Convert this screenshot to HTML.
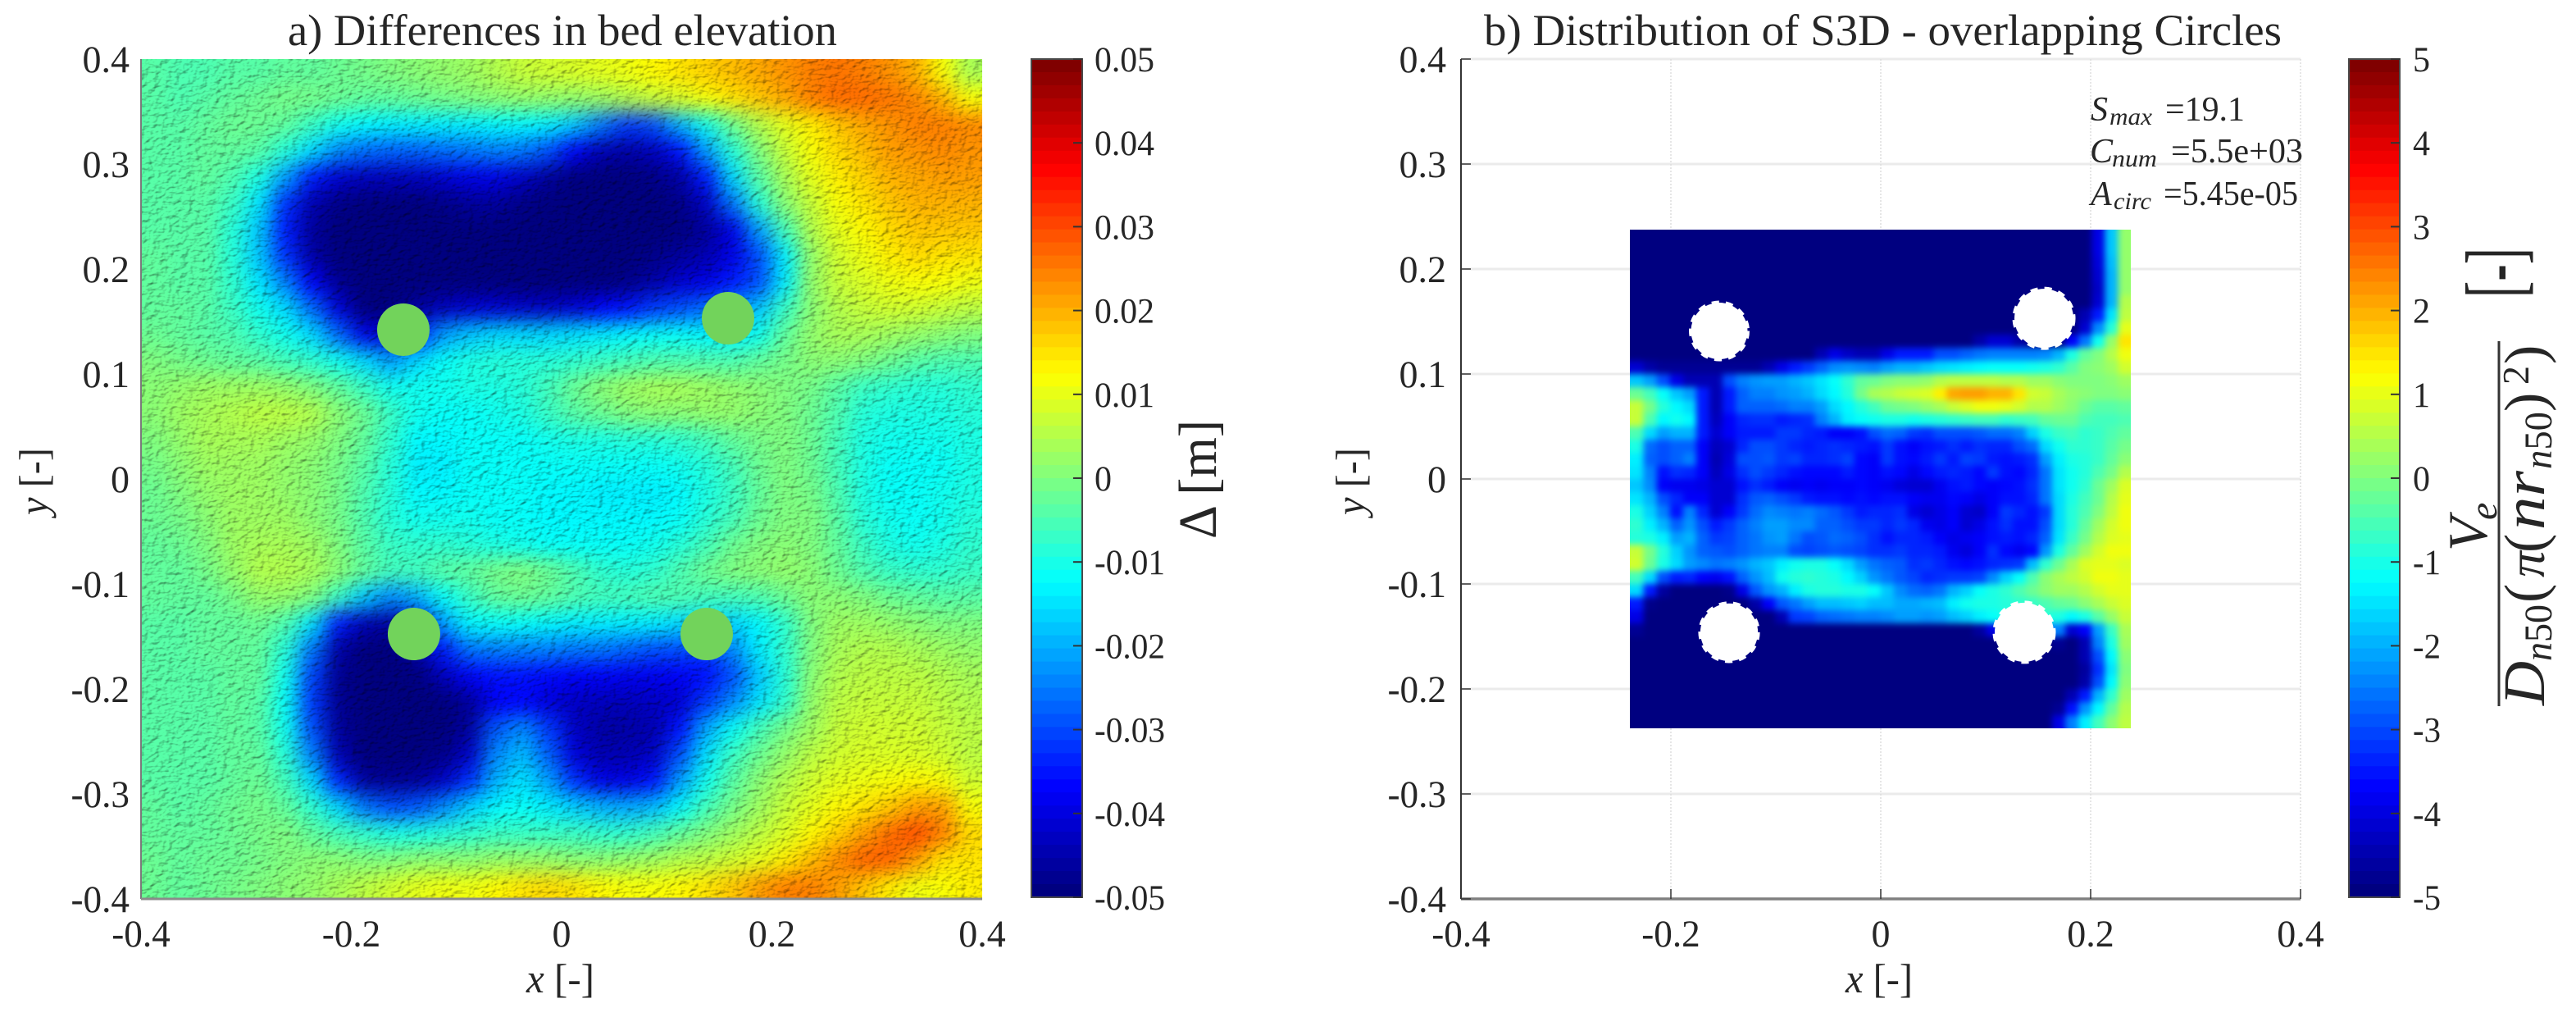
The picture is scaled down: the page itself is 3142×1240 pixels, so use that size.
<!DOCTYPE html>
<html lang="en">
<head>
<meta charset="utf-8">
<title>Bed elevation differences and S3D distribution</title>
<style>
html,body{margin:0;padding:0;background:#fff;}
svg{display:block;}
text{font-family:"Liberation Serif",serif;fill:#262626;}
.it{font-style:italic;}
</style>
</head>
<body>
<svg id="fig" xmlns="http://www.w3.org/2000/svg" width="3142" height="1240" viewBox="0 0 3142 1240">
<defs>
<clipPath id="clipA"><rect x="172" y="72" width="1026" height="1024"/></clipPath>
<clipPath id="clipB"><rect x="1988" y="280" width="611" height="608"/></clipPath>
<filter id="blurA" x="-5%" y="-5%" width="110%" height="110%" color-interpolation-filters="sRGB">
<feGaussianBlur stdDeviation="12"/>
<feComponentTransfer><feFuncA type="linear" slope="12"/></feComponentTransfer>
</filter>
<filter id="blurB" x="-5%" y="-5%" width="110%" height="110%" color-interpolation-filters="sRGB">
<feGaussianBlur stdDeviation="4"/>
<feComponentTransfer><feFuncA type="linear" slope="12"/></feComponentTransfer>
</filter>
<filter id="hillshade" x="0" y="0" width="100%" height="100%" color-interpolation-filters="sRGB">
<feTurbulence type="fractalNoise" baseFrequency="0.12 0.17" numOctaves="2" seed="4"/>
<feDiffuseLighting surfaceScale="1.6" diffuseConstant="1.14" lighting-color="#ffffff">
<feDistantLight azimuth="45" elevation="60"/>
</feDiffuseLighting>
</filter>
</defs>

<text x="351" y="55" font-size="54" textLength="670" lengthAdjust="spacingAndGlyphs">a) Differences in bed elevation</text>
<text x="1810" y="55" font-size="54" textLength="973" lengthAdjust="spacingAndGlyphs">b) Distribution of S3D - overlapping Circles</text>

<g id="gridB"></g>
<g clip-path="url(#clipA)">
<g id="mapA" filter="url(#blurA)"></g>
<rect x="172" y="72" width="1026" height="1024" filter="url(#hillshade)" style="mix-blend-mode:multiply"></rect>
</g>
<g id="circlesA"></g>
<g clip-path="url(#clipB)">
<g id="mapB" filter="url(#blurB)"></g>
</g>
<g id="circlesB"></g>
<g id="axes"></g>
<g id="cbarA"></g>
<g id="cbarB"></g>

<g>
<text x="642" y="1210" font-size="50" textLength="83" lengthAdjust="spacingAndGlyphs"><tspan class="it">x</tspan> [-]</text>
</g>
<g>
<text x="2251" y="1210" font-size="50" textLength="82" lengthAdjust="spacingAndGlyphs"><tspan class="it">x</tspan> [-]</text>
</g>
<text transform="translate(58,628) rotate(-90)" font-size="50" textLength="82" lengthAdjust="spacingAndGlyphs"><tspan class="it">y</tspan> [-]</text>
<text transform="translate(1664,628) rotate(-90)" font-size="50" textLength="82" lengthAdjust="spacingAndGlyphs"><tspan class="it">y</tspan> [-]</text>
<text transform="translate(1483,657) rotate(-90)" font-size="66" textLength="145" lengthAdjust="spacingAndGlyphs">Δ [m]</text>

<g>
<text transform="translate(3076,363) rotate(-90)" font-size="100" textLength="61" lengthAdjust="spacingAndGlyphs">[-]</text>
<text class="it" transform="translate(3033,672) rotate(-90)" font-size="68">V</text>
<text class="it" transform="translate(3045,634) rotate(-90)" font-size="48">e</text>
<line x1="3048" y1="416" x2="3048" y2="861" stroke="#333" stroke-width="3"/>
<text class="it" transform="translate(3103,860) rotate(-90)" font-size="72" textLength="54" lengthAdjust="spacingAndGlyphs">D</text>
<text transform="translate(3112,806) rotate(-90)" font-size="48" textLength="69" lengthAdjust="spacingAndGlyphs"><tspan class="it">n</tspan>50</text>
<text transform="translate(3103,735) rotate(-90)" font-size="70">(</text>
<text class="it" transform="translate(3103,704) rotate(-90)" font-size="64">π</text>
<text transform="translate(3103,674) rotate(-90)" font-size="70">(</text>
<text class="it" transform="translate(3103,646) rotate(-90)" font-size="72" textLength="72" lengthAdjust="spacingAndGlyphs">nr</text>
<text transform="translate(3112,572) rotate(-90)" font-size="48" textLength="70" lengthAdjust="spacingAndGlyphs"><tspan class="it">n</tspan>50</text>
<text transform="translate(3103,502) rotate(-90)" font-size="70">)</text>
<text transform="translate(3084,469) rotate(-90)" font-size="46">2</text>
<text transform="translate(3103,444) rotate(-90)" font-size="70">)</text>
</g>

<g>
<text class="it" x="2550" y="147" font-size="42">S</text>
<text class="it" x="2573" y="152" font-size="30" textLength="52" lengthAdjust="spacingAndGlyphs">max</text>
<text x="2641" y="147" font-size="42" textLength="97" lengthAdjust="spacingAndGlyphs">=19.1</text>
</g>
<g>
<text class="it" x="2549" y="198" font-size="42">C</text>
<text class="it" x="2576" y="203" font-size="30" textLength="55" lengthAdjust="spacingAndGlyphs">num</text>
<text x="2648" y="198" font-size="42" textLength="161" lengthAdjust="spacingAndGlyphs">=5.5e+03</text>
</g>
<g>
<text class="it" x="2550" y="250" font-size="42">A</text>
<text class="it" x="2578" y="255" font-size="30" textLength="46" lengthAdjust="spacingAndGlyphs">circ</text>
<text x="2639" y="250" font-size="42" textLength="164" lengthAdjust="spacingAndGlyphs">=5.45e-05</text>
</g>
</svg>

<script>
// ---------- chart data ----------
const xTicks = [-0.4, -0.2, 0, 0.2, 0.4];
const yTicks = [0.4, 0.3, 0.2, 0.1, 0, -0.1, -0.2, -0.3, -0.4];
const colorTicksA = [0.05, 0.04, 0.03, 0.02, 0.01, 0, -0.01, -0.02, -0.03, -0.04, -0.05];
const colorTicksB = [5, 4, 3, 2, 1, 0, -1, -2, -3, -4, -5];
const circleXA = [-0.1505, 0.1583, -0.1404, 0.138];
const circleYA = [0.1422, 0.1531, -0.1477, -0.1477];
const circleRA = 0.025;
const circleXB = [-0.1539, 0.1555, -0.1445, 0.1367];
const circleYB = [0.141, 0.153, -0.146, -0.146];
const circleRB = [0.0285, 0.0297, 0.029, 0.0297];

// bed elevation change in millimetres, rows run from y=+0.4 down to y=-0.4
const bedDiffMm = [
[-4,-5,-5,-4,-4,-3,-3,-2,-1,0,1,2,3,5,7,8,9,10,11,13,15,17,19,21,23,25,26,25,23,20,12,4],
[-4,-5,-4,-3,-2,-1,-1,-2,-3,-3,-2,-1,0,1,2,2,2,3,5,7,9,12,15,18,21,25,27,27,26,24,20,12],
[-4,-4,-3,-2,-2,-3,-7,-11,-13,-14,-14,-14,-14,-13,-13,-14,-18,-26,-32,-30,-20,-11,-2,5,10,14,18,21,23,25,25,24],
[-4,-4,-3,-3,-4,-9,-16,-24,-27,-28,-28,-27,-26,-25,-26,-30,-38,-45,-46,-44,-36,-22,-9,0,7,12,16,19,22,23,24,23],
[-4,-4,-3,-5,-10,-22,-35,-42,-44,-44,-44,-42,-40,-40,-43,-47,-50,-50,-50,-49,-46,-35,-16,-4,4,10,14,17,20,21,22,22],
[-4,-4,-4,-7,-15,-33,-45,-49,-50,-50,-50,-49,-47,-47,-49,-50,-50,-50,-50,-50,-49,-43,-26,-9,1,7,12,15,18,20,20,20],
[-4,-4,-4,-9,-18,-35,-47,-50,-50,-50,-50,-50,-50,-50,-50,-50,-50,-50,-50,-50,-50,-47,-40,-22,-6,5,10,13,16,18,18,18],
[-3,-4,-4,-9,-18,-33,-46,-50,-50,-50,-50,-50,-50,-50,-50,-50,-50,-50,-50,-49,-47,-45,-40,-30,-14,2,8,11,14,16,15,15],
[-3,-4,-4,-8,-15,-25,-38,-48,-50,-50,-50,-50,-50,-50,-50,-50,-50,-50,-49,-46,-42,-40,-35,-30,-14,2,7,9,11,12,12,11],
[-3,-3,-4,-7,-11,-16,-27,-41,-50,-50,-47,-44,-42,-42,-43,-43,-42,-38,-36,-32,-30,-27,-24,-18,-7,1,5,7,8,8,7,6],
[-2,-3,-4,-5,-8,-11,-16,-27,-40,-42,-35,-22,-18,-16,-16,-16,-15,-14,-13,-12,-12,-13,-14,-11,-3,2,4,4,3,2,1,0],
[0,-1,-2,-3,-4,-6,-8,-11,-16,-22,-16,-12,-10,-9,-9,-9,-8,-7,-6,-5,-5,-5,-5,-3,-1,1,1,0,-2,-4,-5,-5],
[1,2,3,3,3,2,0,-3,-7,-11,-11,-11,-10,-10,-9,-6,-2,1,3,4,4,3,2,1,0,-1,-4,-7,-8,-9,-9,-8],
[1,3,4,5,6,6,5,1,-2,-7,-11,-12,-12,-11,-10,-7,-4,-2,0,1,1,2,2,1,0,-2,-5,-9,-10,-10,-10,-9],
[0,2,4,4,4,3,2,0,-3,-8,-13,-13,-12,-12,-12,-11,-10,-10,-9,-9,-8,-6,-3,-1,0,-2,-6,-10,-11,-11,-11,-10],
[-1,1,3,3,3,2,1,-1,-4,-9,-14,-14,-12,-12,-12,-12,-12,-12,-12,-12,-11,-9,-6,-2,0,-2,-6,-10,-12,-12,-12,-10],
[-2,0,2,3,3,2,1,-1,-5,-9,-13,-13,-12,-12,-12,-13,-13,-14,-14,-14,-13,-10,-7,-3,0,-1,-5,-10,-12,-12,-11,-10],
[-2,-1,1,3,3,3,1,-1,-5,-9,-11,-11,-11,-12,-12,-13,-13,-13,-13,-13,-12,-9,-6,-2,0,0,-4,-9,-11,-12,-11,-9],
[-3,-2,0,3,4,4,3,0,-4,-7,-8,-8,-9,-10,-11,-12,-12,-12,-12,-11,-9,-6,-2,0,1,0,-3,-7,-10,-11,-10,-8],
[-3,-3,-1,2,5,5,4,1,-3,-6,-6,-4,-3,-1,0,-2,-5,-8,-9,-8,-5,-2,0,1,2,1,-2,-5,-7,-8,-8,-7],
[-3,-3,-3,-1,2,2,0,-7,-18,-24,-20,-12,-7,-3,-2,-3,-5,-6,-6,-5,-5,-6,-6,-5,-2,1,1,0,-2,-3,-4,-4],
[-4,-4,-3,-3,-2,-5,-15,-35,-45,-47,-42,-22,-13,-12,-12,-13,-14,-14,-14,-14,-16,-16,-17,-13,-8,0,3,3,2,1,0,0],
[-4,-4,-3,-3,-3,-9,-26,-46,-50,-50,-46,-35,-26,-25,-25,-25,-26,-26,-28,-30,-30,-32,-24,-14,-8,0,4,5,5,4,3,2],
[-4,-4,-4,-3,-3,-11,-31,-48,-50,-50,-50,-44,-38,-36,-36,-37,-38,-38,-39,-39,-38,-36,-30,-18,-9,1,5,6,6,6,5,4],
[-4,-4,-4,-3,-4,-12,-32,-48,-50,-50,-50,-50,-47,-38,-37,-41,-43,-44,-44,-43,-42,-32,-24,-15,-8,2,6,7,7,7,6,5],
[-4,-4,-4,-3,-4,-11,-30,-47,-50,-50,-50,-50,-47,-29,-24,-32,-43,-46,-46,-45,-36,-21,-12,-6,-1,3,7,8,8,8,7,6],
[-4,-4,-4,-3,-3,-9,-25,-45,-50,-50,-50,-49,-43,-24,-19,-28,-41,-45,-45,-43,-30,-15,-7,-2,2,6,8,9,9,9,8,6],
[-4,-4,-4,-3,-2,-6,-16,-34,-47,-48,-47,-43,-33,-20,-15,-22,-33,-40,-40,-36,-22,-11,-4,1,5,8,10,11,12,13,12,8],
[-3,-4,-3,-2,-1,-3,-8,-16,-26,-30,-29,-24,-17,-13,-12,-14,-17,-20,-21,-19,-13,-6,-1,3,7,10,13,15,18,22,22,12],
[-3,-3,-3,-2,-1,0,-3,-6,-8,-10,-10,-9,-8,-7,-7,-7,-7,-8,-8,-6,-3,0,3,6,9,13,17,22,27,30,25,16],
[-2,-3,-2,-2,-1,0,1,1,0,0,1,1,1,2,2,2,1,1,2,3,5,6,8,10,14,19,24,28,28,22,15,15],
[-2,-3,-2,-1,0,1,2,4,6,8,10,11,11,13,15,16,15,13,12,12,13,15,18,22,25,25,22,18,14,11,12,14]
];

// S3D values, rows run from y=+0.2375 down to y=-0.2375
const s3dValues = [
[-5,-5,-5,-5,-5,-5,-5,-5,-5,-5,-5,-5,-5,-5,-5,-5,-5,-5,-5,-5,-5,-5,-5,-5,-5,-5,-5,-5,-5,-5,-5,-5,-5,-5,-5,-4,-1.8,0.2],
[-5,-5,-5,-5,-5,-5,-5,-5,-5,-5,-5,-5,-5,-5,-5,-5,-5,-5,-5,-5,-5,-5,-5,-5,-5,-5,-5,-5,-5,-5,-5,-5,-5,-5,-5,-4,-1.8,0.2],
[-5,-5,-5,-5,-5,-5,-5,-5,-5,-5,-5,-5,-5,-5,-5,-5,-5,-5,-5,-5,-5,-5,-5,-5,-5,-5,-5,-5,-5,-5,-5,-5,-5,-5,-5,-4.1,-1.9,0.2],
[-5,-5,-5,-5,-5,-5,-5,-5,-5,-5,-5,-5,-5,-5,-5,-5,-5,-5,-5,-5,-5,-5,-5,-5,-5,-5,-5,-5,-5,-5,-5,-5,-5,-5,-5,-4.2,-2,0.2],
[-5,-5,-5,-5,-5,-5,-5,-5,-5,-5,-5,-5,-5,-5,-5,-5,-5,-5,-5,-5,-5,-5,-5,-5,-5,-5,-5,-5,-5,-5,-5,-5,-5,-5,-5,-4.3,-2,0.2],
[-5,-5,-5,-5,-5,-5,-5,-5,-5,-5,-5,-5,-5,-5,-5,-5,-5,-5,-5,-5,-5,-5,-5,-5,-5,-5,-5,-5,-5,-5,-5,-5,-5,-5,-5,-4.2,-2,0.5],
[-5,-5,-5,-5,-5,-5,-5,-5,-5,-5,-5,-5,-5,-5,-5,-5,-5,-5,-5,-5,-5,-5,-5,-5,-5,-5,-5,-5,-5,-5,-5,-5,-5,-5,-4.5,-3.5,-1.5,0.6],
[-5,-5,-5,-5,-5,-5,-5,-5,-5,-5,-5,-5,-5,-5,-5,-5,-5,-5,-5,-5,-5,-5,-5,-5,-5,-5,-5,-5,-5,-5,-5,-5,-5,-5,-4.2,-2.4,-0.9,1],
[-5,-5,-5,-5,-5,-5,-5,-5,-5,-5,-5,-5,-5,-5,-5,-5,-5,-5,-5,-5,-5,-5,-5,-5,-5,-5,-4.6,-4.2,-4.2,-4.6,-5,-5,-5,-3.8,-2.6,-1.1,0.2,1.5],
[-5,-5,-5,-5,-5,-5,-5,-5,-5,-5,-5,-5,-5,-5,-4.5,-4,-4.3,-4.5,-4.5,-4,-3.5,-3.5,-3.5,-3,-3,-2.8,-2.6,-2.5,-2.5,-2.5,-2.5,-2.4,-2,-1,-0.3,0,0.5,1.1],
[-4.2,-4.6,-4.8,-4.8,-4.8,-4.8,-4.8,-4.8,-4.8,-4.8,-4.5,-4,-3.5,-3.2,-2.8,-2.4,-2.3,-2.4,-2.5,-2.2,-2,-2,-1.8,-1.6,-1.5,-1.4,-1.3,-1.2,-1.2,-1.2,-1.1,-1,-0.8,-0.4,0,0.1,0.3,0.8],
[-1.8,-2.2,-3,-4,-4.5,-4.5,-4.5,-3,-2.5,-2.3,-2.2,-2.2,-2,-1.8,-1.5,-1.2,-0.8,-0.3,-0.2,0,0.1,0.1,0.2,0.5,0.6,0.6,0.6,0.6,0.5,0.5,0.3,0.3,0.1,0,0,0,0.1,0.3],
[-0.2,-0.6,-1.2,-1.8,-2.2,-3.5,-4.5,-3.5,-2.8,-2.5,-2.5,-2.3,-2.2,-2,-1.6,-1.3,-0.9,-0.1,0.4,0.5,0.7,0.8,0.9,1.4,2.1,2.2,2.2,2,2,1.5,0.8,0.7,0.4,0.2,0.1,0,0,0.1],
[0.7,-0.1,-0.9,-1.3,-1.6,-3.5,-4.5,-3.5,-2.8,-2.8,-2.8,-2.7,-2.5,-2.5,-2.2,-1.6,-1.3,-0.9,-0.6,-0.2,-0.1,0,0.2,0.4,0.7,0.9,1.1,1.1,1,0.8,0.5,0.5,0.3,0.1,-0.2,-0.4,-0.4,-0.3],
[0.7,-0.5,-1.3,-1.1,-1.3,-3.5,-4.4,-3.8,-3.4,-3.3,-3.3,-3.5,-3.4,-3.3,-2.5,-2,-1.4,-1.2,-1.1,-1,-1,-1.1,-1,-0.9,-0.8,-0.7,-0.6,-0.6,-0.8,-0.7,-0.6,-0.3,-0.2,-0.2,-0.5,-0.6,-0.6,-0.5],
[-0.5,-1.6,-2.2,-2,-2,-3.5,-4.2,-3.8,-3.5,-3.5,-3.5,-3.2,-3.2,-3.4,-3.5,-3.8,-3.8,-3.6,-3,-2.7,-2.8,-3.2,-3.3,-3,-3,-3,-2.9,-2.7,-2.7,-2.5,-1.7,-1,-0.7,-0.6,-0.8,-0.7,-0.5,-0.3],
[-1,-2.7,-3,-2.8,-2.8,-3.8,-4.4,-4.2,-3.4,-3,-3,-3.2,-3.4,-3.5,-3.4,-3.3,-3.4,-3.5,-3.6,-3.2,-3.6,-3.8,-3.6,-3.5,-3.3,-3.5,-3.3,-3.4,-3.4,-3,-2.7,-1.6,-1.1,-0.8,-0.8,-0.7,-0.4,-0.1],
[-1.4,-2.8,-3,-2.8,-2.5,-3.8,-4.5,-4.1,-3,-3,-2.9,-3.2,-3.1,-3.4,-3.4,-3.3,-3.1,-3.7,-3.8,-3.2,-3.6,-3.7,-3.5,-3.2,-3.5,-3.1,-3.2,-3.5,-3.6,-3.5,-3.3,-2.2,-1.4,-1,-0.9,-0.7,-0.3,0.1],
[-1.5,-2.5,-3.6,-3.3,-3.4,-3.8,-4.4,-4,-3.3,-3,-3.2,-3.4,-3.6,-3.7,-3.7,-3.7,-3.5,-3.7,-3.8,-3.6,-3.7,-4,-3.7,-3.5,-3.4,-3.5,-3.7,-3.2,-3.6,-3.7,-3.4,-2.6,-1.5,-1.1,-0.9,-0.5,-0.1,0.5],
[-1.8,-2.4,-3.8,-3.9,-3.9,-4,-4.2,-4.2,-3.6,-3.3,-3.5,-3.8,-3.9,-3.8,-3.9,-3.8,-3.8,-3.7,-3.8,-3.9,-4.1,-4.2,-4.2,-3.9,-3.6,-3.5,-3.7,-3.8,-3.7,-3.6,-3.3,-2.6,-1.5,-1.1,-0.8,-0.2,0.3,0.9],
[-1.5,-2,-3,-3.4,-3.8,-3.8,-4.2,-4.2,-3.3,-2.9,-2.8,-3,-3.2,-3.5,-3.6,-3.6,-3.7,-3.6,-3.7,-3.6,-3.6,-3.8,-3.9,-3.9,-3.7,-3.8,-4,-3.8,-3.6,-3.6,-3.4,-2.6,-1.6,-1,-0.6,-0.2,0.5,1],
[-1,-1.7,-2.5,-3.6,-2.5,-3.4,-4.2,-3.8,-3.2,-2.7,-2.4,-2.5,-2.6,-2.5,-2.7,-2.9,-3.2,-3.5,-3.4,-3.4,-3.3,-4,-4.2,-4,-3.8,-4.2,-4.3,-3.8,-3.2,-3.4,-3.6,-3.2,-1.6,-0.9,-0.5,0,0.6,1.1],
[-0.8,-1.4,-2,-2.8,-2.3,-3,-3.5,-3.2,-2.8,-2.5,-2.2,-2.2,-2.4,-2.4,-2.8,-2.8,-3,-3.2,-3.2,-3.4,-3.2,-3.4,-3.9,-4,-3.8,-4.2,-4,-3.6,-3.3,-3.6,-3.6,-3,-1.6,-0.9,-0.3,0.3,0.8,1.1],
[-0.9,-1,-1.4,-2.2,-2,-2.8,-3.2,-3.1,-2.8,-2.6,-2.3,-2.2,-2.6,-3,-2.9,-2.7,-2.8,-3,-3.3,-3.6,-3.4,-3.4,-3.5,-3.8,-4,-3.9,-3.8,-3.6,-3.5,-3.6,-3.4,-2.8,-1.5,-0.7,-0.1,0.5,0.9,1],
[0.7,-0.1,-0.9,-1.7,-2.3,-2.8,-2.9,-3,-2.8,-2.6,-2.5,-2.5,-3,-3.1,-3,-2.9,-3,-3.1,-3.3,-3.3,-3.2,-3.4,-3.4,-3.5,-3.9,-4.1,-3.8,-3.3,-3.7,-3.9,-3.7,-2.3,-1,-0.3,0.3,0.8,1.1,1.1],
[0.8,-0.2,-1,-1.6,-2.2,-2.4,-2.6,-2.5,-2.3,-2,-1.8,-1.4,-1.1,-1,-1,-1.2,-1.6,-2.2,-2.6,-2.8,-2.9,-3.3,-3.2,-3.4,-3.6,-3.7,-3.6,-3.4,-3.3,-3.2,-1.9,-0.8,-0.2,0.4,0.9,1,1,0.9],
[-0.6,-1.6,-3,-3.5,-3.4,-3.8,-3.9,-3.6,-2.8,-2.3,-1.9,-1.1,-0.9,-0.8,-0.9,-1,-1.3,-1.7,-2.3,-2.6,-2.9,-3.1,-3.4,-3.3,-3.2,-3.2,-3.1,-2.4,-1.7,-1.2,-0.5,0.1,0.4,0.6,0.8,1.1,1.1,1],
[-1.6,-3.5,-4.7,-5,-5,-5,-5,-4.9,-4,-2.9,-2.3,-2,-1.4,-1,-0.9,-0.9,-1,-1,-1.2,-1.8,-2.4,-2.7,-2.8,-2.6,-2,-1.7,-1.2,-1,-0.8,-0.5,-0.2,0.1,0.3,0.3,0.5,0.8,1,1],
[-3.5,-4.9,-5,-5,-5,-5,-5,-5,-5,-4.6,-3.8,-2.9,-2.6,-2.2,-1.9,-1.9,-1.8,-1.7,-1.9,-1.9,-2.1,-2.1,-2,-1.9,-1.4,-1.1,-1,-1,-0.9,-0.8,-0.7,-0.5,-0.3,-0.2,0.1,0.4,0.7,0.9],
[-4,-5,-5,-5,-5,-5,-5,-5,-5,-5,-5,-4.5,-3.2,-3.1,-2.8,-2.7,-2.6,-2.5,-2.5,-2.4,-2.2,-2.2,-2.3,-2.2,-1.9,-1.7,-1.4,-1.2,-1,-1,-1,-0.9,-1,-1.3,-1,-0.4,0.2,0.7],
[-4.8,-5,-5,-5,-5,-5,-5,-5,-5,-5,-5,-5,-5,-5,-5,-5,-5,-5,-5,-5,-5,-5,-5,-5,-5,-5,-4.7,-4,-3,-3,-3,-2.5,-2.5,-4.2,-3.8,-2.2,-0.7,0.4],
[-5,-5,-5,-5,-5,-5,-5,-5,-5,-5,-5,-5,-5,-5,-5,-5,-5,-5,-5,-5,-5,-5,-5,-5,-5,-5,-5,-5,-5,-5,-5,-5,-4.8,-5,-4.5,-2.5,-1,0.3],
[-5,-5,-5,-5,-5,-5,-5,-5,-5,-5,-5,-5,-5,-5,-5,-5,-5,-5,-5,-5,-5,-5,-5,-5,-5,-5,-5,-5,-5,-5,-5,-5,-5,-5,-4.5,-3,-1.3,0.1],
[-5,-5,-5,-5,-5,-5,-5,-5,-5,-5,-5,-5,-5,-5,-5,-5,-5,-5,-5,-5,-5,-5,-5,-5,-5,-5,-5,-5,-5,-5,-5,-5,-5,-5,-4.7,-3.3,-1.5,0],
[-5,-5,-5,-5,-5,-5,-5,-5,-5,-5,-5,-5,-5,-5,-5,-5,-5,-5,-5,-5,-5,-5,-5,-5,-5,-5,-5,-5,-5,-5,-5,-5,-5,-5,-4.6,-3,-1.3,0.1],
[-5,-5,-5,-5,-5,-5,-5,-5,-5,-5,-5,-5,-5,-5,-5,-5,-5,-5,-5,-5,-5,-5,-5,-5,-5,-5,-5,-5,-5,-5,-5,-5,-5,-4.5,-3.5,-2,-0.8,0.3],
[-5,-5,-5,-5,-5,-5,-5,-5,-5,-5,-5,-5,-5,-5,-5,-5,-5,-5,-5,-5,-5,-5,-5,-5,-5,-5,-5,-5,-5,-5,-5,-5,-4.8,-3.6,-2.3,-1.3,-0.3,0.5],
[-5,-5,-5,-5,-5,-5,-5,-5,-5,-5,-5,-5,-5,-5,-5,-5,-5,-5,-5,-5,-5,-5,-5,-5,-5,-5,-5,-5,-5,-5,-5,-5,-4,-2.5,-1.4,-0.6,0.1,0.6]
];

// ---------- axis functions ----------
const NS = 'http://www.w3.org/2000/svg';
const xAxisA = v => 172 + (v + 0.4) / 0.8 * 1026;
const xAxisB = v => 1782 + (v + 0.4) / 0.8 * 1024;
const yAxis = v => 72 + (0.4 - v) / 0.8 * 1024;
const cbarYA = v => 72 + (0.05 - v) / 0.1 * 1022;
const cbarYB = v => 72 + (5 - v) / 10 * 1022;

function clamp01(c) { return Math.max(0, Math.min(1, c)); }
function jet(t) {
  const r = clamp01(Math.min(4 * t - 1.5, -4 * t + 4.5));
  const g = clamp01(Math.min(4 * t - 0.5, -4 * t + 3.5));
  const b = clamp01(Math.min(4 * t + 0.5, -4 * t + 2.5));
  return 'rgb(' + Math.round(r * 255) + ',' + Math.round(g * 255) + ',' + Math.round(b * 255) + ')';
}
function mk(parent, tag, attrs) {
  const el = document.createElementNS(NS, tag);
  for (const k in attrs) el.setAttribute(k, attrs[k]);
  parent.appendChild(el);
  return el;
}
function labelWidth(s, digit, dot, minus) {
  let w = 0;
  for (const c of s) w += c === '.' ? dot : c === '-' ? minus : digit;
  return w;
}
function tickText(parent, s, x, y, size, anchor, digit, dot, minus) {
  const t = mk(parent, 'text', {
    x: x, y: y, 'font-size': size, 'text-anchor': anchor,
    textLength: labelWidth(s, digit, dot, minus), lengthAdjust: 'spacingAndGlyphs'
  });
  t.textContent = s;
  return t;
}

// ---------- heatmap a ----------
const mapA = document.getElementById('mapA');
const rowsA = bedDiffMm.length;
const colsA = bedDiffMm[0].length;
bedDiffMm.forEach((row, r) => {
  row.forEach((val, c) => {
    const x0 = xAxisA(-0.4 + 0.8 * c / colsA);
    const x1 = xAxisA(-0.4 + 0.8 * (c + 1) / colsA);
    const y0 = yAxis(0.4 - 0.8 * r / rowsA);
    const y1 = yAxis(0.4 - 0.8 * (r + 1) / rowsA);
    const cell = mk(mapA, 'rect', {
      x: x0, y: y0, width: x1 - x0 + 0.6, height: y1 - y0 + 0.6,
      fill: jet((Math.max(-50, Math.min(50, val)) + 50) / 100)
    });
    
    
  });
});

// ---------- heatmap b ----------
const mapB = document.getElementById('mapB');
const rowsB = s3dValues.length;
const colsB = s3dValues[0].length;
const extentXB = 0.2387;
const extentYB = 0.2375;
s3dValues.forEach((row, r) => {
  row.forEach((val, c) => {
    const x0 = xAxisB(-extentXB + 2 * extentXB * c / colsB);
    const x1 = xAxisB(-extentXB + 2 * extentXB * (c + 1) / colsB);
    const y0 = yAxis(extentYB - 2 * extentYB * r / rowsB);
    const y1 = yAxis(extentYB - 2 * extentYB * (r + 1) / rowsB);
    const cell = mk(mapB, 'rect', {
      x: x0, y: y0, width: x1 - x0 + 0.6, height: y1 - y0 + 0.6,
      fill: jet((Math.max(-5, Math.min(5, val)) + 5) / 10)
    });
    
    
  });
});

// ---------- circles ----------
const circlesA = document.getElementById('circlesA');
circleXA.forEach((cx, i) => {
  const c = mk(circlesA, 'circle', {
    cx: xAxisA(cx), cy: yAxis(circleYA[i]), r: circleRA * 1280, fill: '#72d35b'
  });
  
  
});
const circlesB = document.getElementById('circlesB');
circleXB.forEach((cx, i) => {
  const c = mk(circlesB, 'circle', {
    cx: xAxisB(cx), cy: yAxis(circleYB[i]), r: circleRB[i] * 1280 - 2, fill: '#ffffff',
    stroke: '#ffffff', 'stroke-width': 5, 'stroke-dasharray': '9 8'
  });
  
  
});

// ---------- grid for panel b ----------
const gridB = document.getElementById('gridB');
yTicks.forEach(v => {
  const l = mk(gridB, 'line', {
    x1: 1782, x2: 2806, y1: yAxis(v), y2: yAxis(v), stroke: '#ebebeb', 'stroke-width': 3
  });
  
  
});
xTicks.forEach(v => {
  const l = mk(gridB, 'line', {
    x1: xAxisB(v), x2: xAxisB(v), y1: 72, y2: 1096, stroke: '#dddddd', 'stroke-width': 1.5,
    'stroke-dasharray': '2 2'
  });
  
  
});

// ---------- axes ----------
const axes = document.getElementById('axes');
const leftA = mk(axes, 'line', { x1: 172, x2: 172, y1: 72, y2: 1096, stroke: '#7a7a7a', 'stroke-width': 2 });


const bottomA = mk(axes, 'line', { x1: 172, x2: 1198, y1: 1096, y2: 1096, stroke: '#8a8a8a', 'stroke-width': 3 });


const leftB = mk(axes, 'line', { x1: 1782, x2: 1782, y1: 72, y2: 1096, stroke: '#333333', 'stroke-width': 2 });


const bottomB = mk(axes, 'line', { x1: 1782, x2: 2806, y1: 1096, y2: 1096, stroke: '#808080', 'stroke-width': 3.5 });



xTicks.forEach(v => {
  const s = String(v);
  const la = tickText(axes, s, xAxisA(v), 1154, 47, 'middle', 23, 11.5, 14);
  
  
  const lb = tickText(axes, s, xAxisB(v), 1154, 47, 'middle', 23, 11.5, 14);
  
  
  const tk = mk(axes, 'line', { x1: xAxisB(v), x2: xAxisB(v), y1: 1084, y2: 1096, stroke: '#333333', 'stroke-width': 1.5 });
  
  
});
yTicks.forEach(v => {
  const s = String(v);
  const la = tickText(axes, s, 158, yAxis(v) + 16, 47, 'end', 23, 11.5, 14);
  
  
  const lb = tickText(axes, s, 1764, yAxis(v) + 16, 47, 'end', 23, 11.5, 14);
  
  
  const tk = mk(axes, 'line', { x1: 1782, x2: 1794, y1: yAxis(v), y2: yAxis(v), stroke: '#333333', 'stroke-width': 1.5 });
  
  
});

// ---------- colorbars ----------
function drawColorbar(group, x, w, ticks, yFn, vMin, vMax, labelX, namePrefix) {
  const bands = 64;
  for (let i = 0; i < bands; i++) {
    const vTop = vMax - (vMax - vMin) * i / bands;
    const vBot = vMax - (vMax - vMin) * (i + 1) / bands;
    const band = mk(group, 'rect', {
      x: x, y: yFn(vTop), width: w, height: yFn(vBot) - yFn(vTop) + 0.5,
      fill: jet((bands - 1 - i) / (bands - 1))
    });
    
    
  }
  const frame = mk(group, 'rect', {
    x: x, y: yFn(vMax), width: w, height: yFn(vMin) - yFn(vMax),
    fill: 'none', stroke: '#4a4a4a', 'stroke-width': 2
  });
  
  
  ticks.forEach(v => {
    const tk = mk(group, 'line', {
      x1: x + w - 11, x2: x + w, y1: yFn(v), y2: yFn(v), stroke: '#333333', 'stroke-width': 2
    });
    
    
    const lab = tickText(group, String(v), labelX, yFn(v) + 15, 43, 'start', 21, 10, 13);
    
    
  });
}
drawColorbar(document.getElementById('cbarA'), 1258, 62, colorTicksA, cbarYA, -0.05, 0.05, 1335, 'colorbar-a');
drawColorbar(document.getElementById('cbarB'), 2865, 62, colorTicksB, cbarYB, -5, 5, 2943, 'colorbar-b');
</script>
</body>
</html>
